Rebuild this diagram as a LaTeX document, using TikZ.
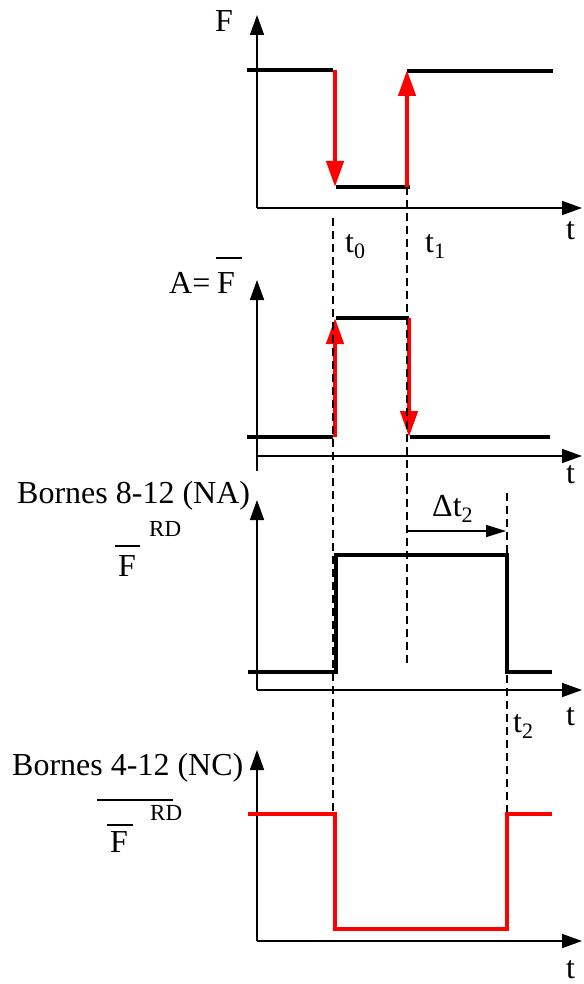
\documentclass[tikz,border=0pt]{standalone}
\usepackage{fontspec}
\setmainfont{Liberation Serif}
\usetikzlibrary{arrows.meta}

\tikzset{
    axis/.style={line width=1.6pt, -{Triangle[length=20pt,width=14pt]}},
    signal/.style={line width=4.5pt},
    edge/.style={red, line width=4.5pt, -{Triangle[length=26pt,width=17pt]}},
    guide/.style={line width=1.3pt, dash pattern=on 8pt off 5pt},
    bar/.style={line width=1.5pt},
    lbl/.style={inner sep=0pt, anchor=base west, font=\fontsize{32}{32}\selectfont},
    rdlbl/.style={inner sep=0pt, anchor=base west, font=\fontsize{23}{23}\selectfont}
}
\newcommand{\tsub}[1]{t\raisebox{-6pt}{\fontsize{22}{22}\selectfont #1}}

\begin{document}
\begin{tikzpicture}[x=1pt, y=-1pt]
    \useasboundingbox (0,0) rectangle (583,984);

    % axes: t-axis height / foot of F-axis / top of F-axis / baseline of t
    \foreach \ya/\yb/\yt/\yl [count=\i] in {208/208/15/240, 456/471/280/483,
                                             690/690/500/725, 941/941/750/978} {
        \draw[axis] (257,\yb) -- (257,\yt);
        \draw[axis] (257,\ya) -- (582,\ya);
        \node[lbl] (t\i) at (566,\yl) {t};
    }

    % F
    \draw[signal] (247,70) -- (333,70);
    \draw[signal] (336,187) -- (410,187);
    \draw[signal] (407,71) -- (553,71);
    \draw[edge] (335,70) -- (335,187);
    \draw[edge] (407,187) -- (407,70);

    % A = not F
    \draw[signal] (247,437) -- (333,437);
    \draw[signal] (336,318) -- (409,318);
    \draw[signal] (410,437) -- (550,437);
    \draw[edge] (335,437) -- (335,318);
    \draw[edge] (409,318) -- (409,437);

    % contact NA, delayed release
    \draw[signal] (248,672) -| (336,555) -| (507,672) -- (552,672);

    % contact NC
    \draw[signal, red] (248,814) -| (335,929) -| (507,814) -- (552,814);

    % instants
    \coordinate (g0) at (333,218);
    \coordinate (g1) at (407,187);
    \coordinate (g2) at (507,493);
    \draw[guide] (g0) -- (333,812);
    \draw[guide] (g1) -- (407,667);
    \draw[guide] (g2) -- (507,812);
    \draw[line width=1.5pt, -{Triangle[length=20pt,width=12pt]}] (408,531) -- (506,531);

    \node[lbl] (lt0) at (345,252) {\tsub{0}};
    \node[lbl] (lt1) at (425,252) {\tsub{1}};
    \node[lbl] (lt2) at (513,732) {\tsub{2}};
    \node[lbl] (ldt) at (432,516) {Δ\tsub{2}};

    % signal names
    \node[lbl] (lF) at (215,32) {F};
    \node[lbl] (lA) at (169,293) {A=};
    \node[lbl] (fA) at (217,293) {F};
    \draw[bar] (fA.base west) ++(-1,-35) -- ++(26,0);

    \node[lbl] (lNA) at (17,503) {Bornes 8-12 (NA)};
    \node[lbl] (fB) at (118,576) {F};
    \node[rdlbl] (rdB) at (149,536) {RD};
    \draw[bar] (fB.base west) ++(-3,-30) -- ++(25,0);

    \node[lbl] (lNC) at (12,775) {Bornes 4-12 (NC)};
    \node[lbl] (fC) at (110,852) {F};
    \node[rdlbl] (rdC) at (150,820) {RD};
    \draw[bar] (fC.base west) ++(-3,-27) -- ++(26,0);
    \draw[bar] (fC.base west) ++(-13,-52) -- ++(76,0);
\end{tikzpicture}
\end{document}
